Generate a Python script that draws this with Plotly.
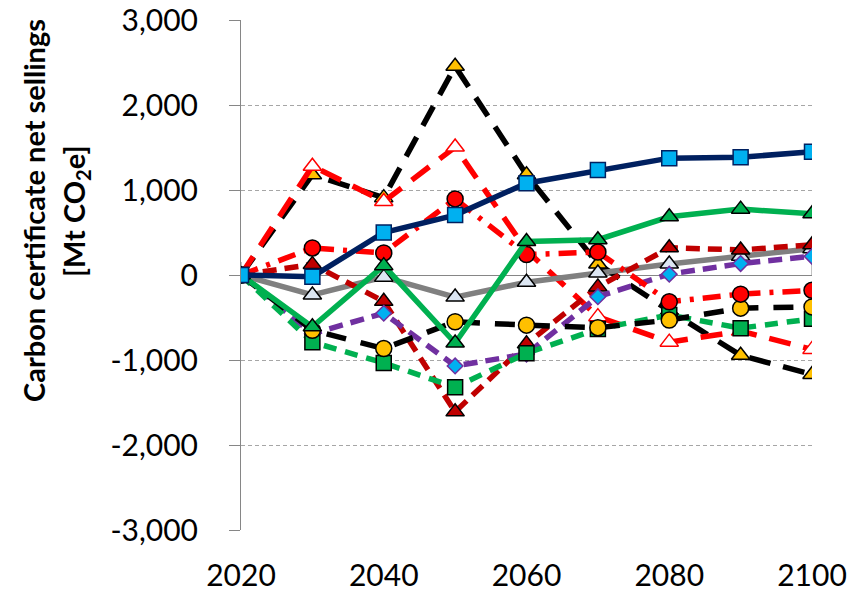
import plotly.graph_objects as go

# Decades on the horizontal axis
years = [2020, 2030, 2040, 2050, 2060, 2070, 2080, 2090, 2100]

# Net sellings of carbon certificates per scenario [Mt CO2e]
orange_tri = [0, 1180, 910, 2455, 1180, 130, -420, -945, -1170]
red_hollow = [0, 1280, 865, 1505, 290, -490, -790, -660, -875]
gray_tri = [0, -235, -25, -260, -85, 24, 130, 220, 310]
darkred_tri = [0, 125, -310, -1610, -810, -140, 320, 295, 355]
purple_dia = [0, -690, -450, -1070, -930, -255, 10, 135, 220]
green_sq = [0, -790, -1035, -1320, -920, -635, -470, -625, -515]
orange_circ = [0, -650, -865, -550, -590, -620, -530, -390, -375]
red_circ = [0, 318, 259, 895, 240, 270, -315, -225, -180]
green_tri = [0, -610, 110, -800, 395, 415, 685, 775, 720]
navy_sq = [0, -20, 500, 705, 1080, 1235, 1375, 1385, 1450]

x_ticks = [2020, 2040, 2060, 2080, 2100]
y_ticks = [-3000, -2000, -1000, 0, 1000, 2000, 3000]
y_tick_text = ["-3,000", "-2,000", "-1,000", "0", "1,000", "2,000", "3,000"]

FONT = "Lato"

fig = go.Figure()


def add(values, line_color, dash, symbol, fill, edge, size, width=5.5):
    fig.add_trace(go.Scatter(
        x=years, y=values, mode="lines+markers",
        line=dict(color=line_color, width=width, dash=dash),
        marker=dict(symbol=symbol, size=size, color=fill,
                    line=dict(color=edge, width=1.5)),
        showlegend=False, hoverinfo="x+y",
    ))


# back-to-front drawing order
add(orange_tri, "#000000", "22px,13px", "triangle-up", "#FFC000", "#000000", 16)
add(red_hollow, "#FF0000", "22px,13px", "triangle-up", "#FFFFFF", "#FF0000", 16)
add(gray_tri, "#808080", "solid", "triangle-up", "#DCE6F2", "#000000", 16)
add(darkred_tri, "#C00000", "14px,8px", "triangle-up", "#C00000", "#000000", 16)
add(purple_dia, "#7030A0", "14px,8px", "diamond", "#00B0F0", "#7030A0", 12)
add(green_sq, "#00B050", "13px,9px", "square", "#00B050", "#000000", 15)
add(orange_circ, "#000000", "20px,15px", "circle", "#FFC000", "#000000", 16)
add(red_circ, "#FF0000", "18px,9px,4px,9px", "circle", "#FF0000", "#000000", 16)
add(green_tri, "#00B050", "solid", "triangle-up", "#00B050", "#000000", 16)
add(navy_sq, "#002060", "solid", "square", "#00B0F0", "#002060", 15)

# small upward tick marks on the zero line
for xv in x_ticks:
    fig.add_shape(type="line", xref="x", yref="y", x0=xv, x1=xv,
                  ysizemode="pixel", yanchor=0, y0=0, y1=13,
                  line=dict(color="#868686", width=1), layer="below")

# plot area in pixels
L, R, T, B = 241, 812, 20, 530
W, H = 852, 594


def px_x(p):
    return (p - L) / (R - L)


def px_y(p):
    return (B - p) / (B - T)


title_font = dict(family=FONT, size=29, color="#000000")
fig.add_annotation(text="<b>Carbon certificate net sellings</b>",
                   xref="paper", yref="paper", x=px_x(33), y=px_y(211),
                   textangle=-90, showarrow=False, font=title_font,
                   xanchor="center", yanchor="middle")
fig.add_annotation(text="<b>[Mt CO<sub>2</sub>e]</b>",
                   xref="paper", yref="paper", x=px_x(75), y=px_y(211),
                   textangle=-90, showarrow=False, font=title_font,
                   xanchor="center", yanchor="middle")

fig.update_layout(
    width=W, height=H,
    margin=dict(l=L, r=W - R, t=T, b=H - B, autoexpand=False),
    paper_bgcolor="#FFFFFF", plot_bgcolor="#FFFFFF",
    font=dict(family=FONT, size=30, color="#000000"),
    xaxis=dict(range=[2020, 2100], tickvals=x_ticks, ticks="",
               showgrid=False, zeroline=False, showline=False,
               automargin=False, ticklabelstandoff=25,
               tickfont=dict(family=FONT, size=30, color="#000000")),
    yaxis=dict(range=[-3000, 3000], tickvals=y_ticks, ticktext=y_tick_text,
               ticks="outside", ticklen=11, tickcolor="#868686", tickwidth=1,
               showline=True, linecolor="#868686", linewidth=1,
               showgrid=True, gridcolor="#A6A6A6", gridwidth=1,
               griddash="4px,3px",
               zeroline=True, zerolinecolor="#868686", zerolinewidth=1,
               automargin=False, ticklabelstandoff=25,
               tickfont=dict(family=FONT, size=30, color="#000000")),
)

fig.write_html("out.html")
